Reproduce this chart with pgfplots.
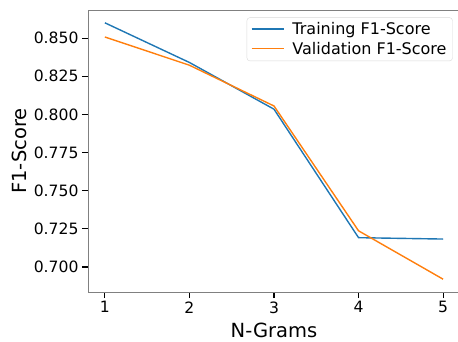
\documentclass[border=0pt]{standalone}
\usepackage{fontspec}
\setmainfont{DejaVu Sans}
\usepackage{pgfplots}
\pgfplotsset{compat=1.18}
\definecolor{tabblue}{HTML}{1F77B4}
\definecolor{taborange}{HTML}{FF7F0E}

\begin{document}
\begin{tikzpicture}
\useasboundingbox (-88pt,-49pt) rectangle (370pt,292pt);
\begin{axis}[
  scale only axis,
  width=372pt, height=282pt,
  xmin=0.8, xmax=5.2,
  ymin=0.6836, ymax=0.8684,
  xtick={1,2,3,4,5},
  ytick={0.700,0.725,0.750,0.775,0.800,0.825,0.850},
  /pgf/number format/assume math mode=true,
  yticklabel style={/pgf/number format/.cd, fixed, fixed zerofill, precision=3},
  tick label style={font=\fontsize{15.6}{18}\selectfont},
  tick pos=left,
  tick align=outside,
  major tick length=6pt,
  every tick/.style={black, line width=1.1pt},
  axis line style={draw=black!50, line width=0.9pt},
  xlabel={N-Grams}, ylabel={F1-Score},
  label style={font=\fontsize{19.5}{22}\selectfont},
  xlabel style={at={(axis description cs:0.5,-0.1348)}, anchor=center},
  ylabel style={at={(axis description cs:-0.1855,0.5)}, anchor=center},
  legend style={at={(axis description cs:0.9804,0.9738)}, anchor=north east,
    draw=black!15, rounded corners=3pt, fill=white,
    font=\fontsize{16}{19}\selectfont,
    inner xsep=4pt, inner ysep=3pt, row sep=2pt, column sep=6pt},
  legend cell align=left,
  legend image code/.code={%
    \draw[#1, line width=1.5pt] (0pt,0.6pt) -- (32pt,0.6pt);},
]
\addplot[draw=tabblue, line width=1.4pt] coordinates {
  (1,0.8600) (2,0.8340) (3,0.8034) (4,0.7192) (5,0.7183)
};
\addlegendentry{Training F1-Score}
\addplot[draw=taborange, line width=1.4pt] coordinates {
  (1,0.8507) (2,0.8322) (3,0.8055) (4,0.7237) (5,0.6920)
};
\addlegendentry{Validation F1-Score}
\end{axis}
\end{tikzpicture}
\end{document}
